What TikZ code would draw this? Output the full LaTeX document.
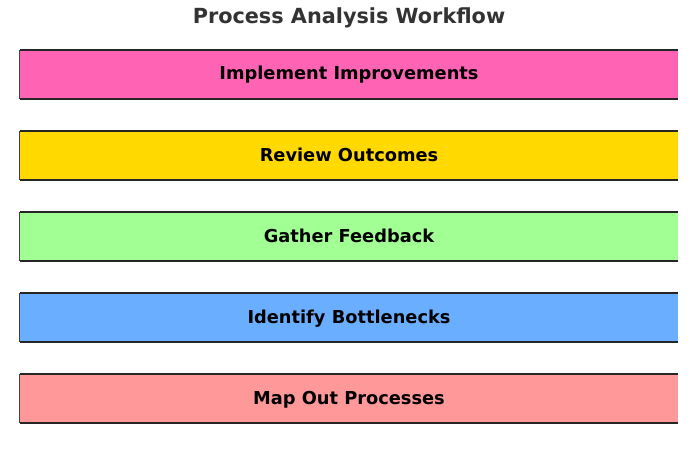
\documentclass[tikz,border=0pt]{standalone}
\usepackage{fontspec}
\setmainfont{DejaVu Sans}
\definecolor{pinkbar}{HTML}{FF63B4}
\definecolor{goldbar}{HTML}{FFD900}
\definecolor{greenbar}{HTML}{A2FF94}
\definecolor{bluebar}{HTML}{6AAFFF}
\definecolor{salmonbar}{HTML}{FF9999}
\definecolor{titlegrey}{HTML}{333333}
\tikzset{
  bar/.style={fill=#1,minimum width=658pt,minimum height=49pt,inner sep=0pt,
    text height=11pt,text depth=0pt,
    font=\bfseries\fontsize{17.8pt}{20pt}\selectfont},
  edge/.style={line width=1.6pt,draw=black!85},
  side/.style={line width=0.8pt,draw=black!75}
}
\begin{document}
\begin{tikzpicture}[x=1pt,y=-1pt]
    \useasboundingbox (0,0) rectangle (692,457);
    \node[anchor=base,text=titlegrey,font=\bfseries\fontsize{20.8pt}{22pt}\selectfont] (title) at (349,23.5) {Process Analysis Workflow};
    \foreach \name/\txt/\col/\y in {impl/Implement Improvements/pinkbar/74.5,
      review/Review Outcomes/goldbar/155.5,
      gather/Gather Feedback/greenbar/236.5,
      identify/Identify Bottlenecks/bluebar/317.5,
      mapout/Map Out Processes/salmonbar/398.5}
    {
    \node[bar=\col] (\name) at (349,\y) {\txt};
    \draw[edge] (\name.north west)--(\name.north east);
    \draw[edge] (\name.south west)--(\name.south east);
    \draw[side] (\name.north west)--(\name.south west);
    }
\end{tikzpicture}
\end{document}
